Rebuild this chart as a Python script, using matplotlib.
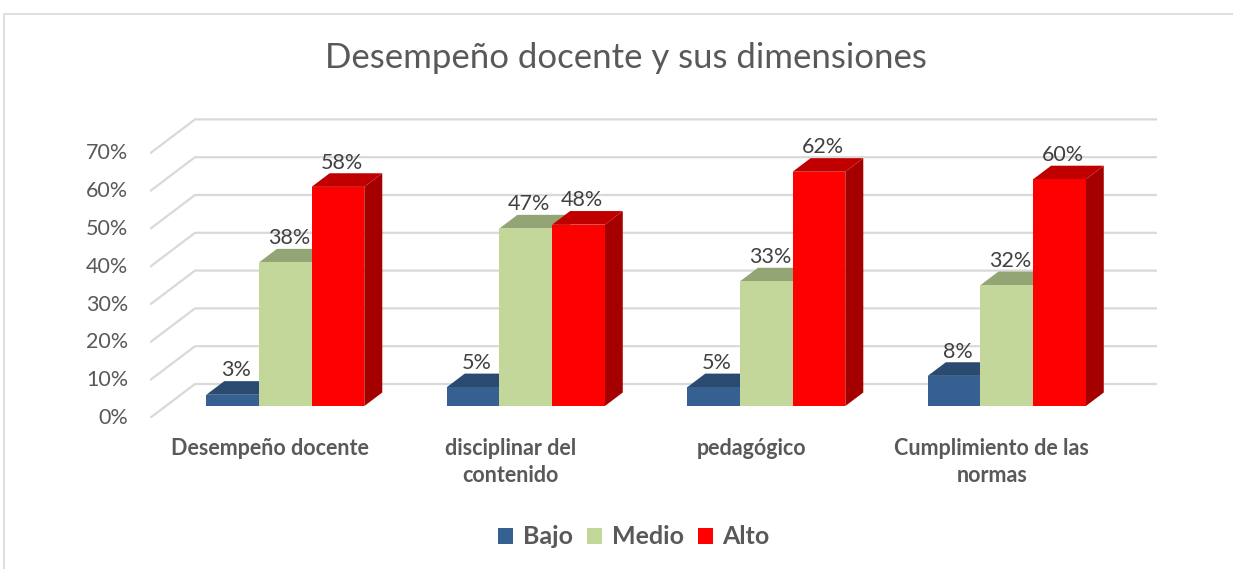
import matplotlib
matplotlib.use('Agg')
import matplotlib.pyplot as plt
from matplotlib.patches import Polygon, Rectangle, Patch

# data
categories = ['Desempeño docente', 'disciplinar del\ncontenido', 'pedagógico',
              'Cumplimiento de las\nnormas']
series = ['Bajo', 'Medio', 'Alto']
bajo = [3, 5, 5, 8]
medio = [38, 47, 33, 32]
alto = [58, 48, 62, 60]
yticks = [0, 10, 20, 30, 40, 50, 60, 70]

front_colors = ['#376092', '#c4d79b', '#ff0000']
top_colors = ['#2a4a70', '#94a575', '#c00000']
side_colors = ['#203a58', '#7d8c60', '#a50000']

plt.rcParams['font.family'] = ['Lato', 'DejaVu Sans']

W, H = 1233, 569
fig = plt.figure(figsize=(W / 100, H / 100), dpi=100)

# chart border
fig.patches.append(Rectangle((4 / W, -0.1), 1.2, 1 - 14 / H + 0.1, transform=fig.transFigure,
                             fill=False, edgecolor='#d9d9d9', linewidth=1.2))

# axes placed so that x = category index, y = percent (front plane, depth 0)
px_per_cat = 240.5
px_per_pct = 3.78
left_px, right_px, zero_px, top_px = 150, 1165, 418, 100
ax = fig.add_axes([left_px / W, (H - zero_px) / H, (right_px - left_px) / W, (zero_px - top_px) / H])
ax.set_xlim(-0.5, -0.5 + (right_px - left_px) / px_per_cat)
ax.set_ylim(0, (zero_px - top_px) / px_per_pct)
ax.axis('off')

dx = 45 / px_per_cat   # depth offset in x units
dy = 34 / px_per_pct   # depth offset in y units
n = len(categories)

# walls / gridlines
for t in yticks:
    ax.plot([-0.5, -0.5 + dx, n - 0.5 + dx], [t, t + dy, t + dy], color='#d9d9d9', lw=1.6,
            solid_capstyle='butt', zorder=1)
    ax.text(-0.5 - 22 / px_per_cat, t, f'{t}%', ha='right', va='center', fontsize=15.5,
            color='#595959')

# bars
width = 0.219
z0, z1 = 0.35, 0.75
values = [bajo, medio, alto]
for i in range(n):
    for j, vals in enumerate(values):
        v = vals[i]
        xl = i - 1.5 * width + j * width - 0.003
        xr = xl + width
        fx0, fy0 = z0 * dx, z0 * dy
        bx, by = z1 * dx, z1 * dy
        side = Polygon([(xr + fx0, fy0), (xr + bx, by), (xr + bx, v + by), (xr + fx0, v + fy0)],
                       closed=True, facecolor=side_colors[j], edgecolor='none', zorder=2 + j)
        top = Polygon([(xl + fx0, v + fy0), (xr + fx0, v + fy0), (xr + bx, v + by), (xl + bx, v + by)],
                      closed=True, facecolor=top_colors[j], edgecolor='none', zorder=2 + j)
        front = Polygon([(xl + fx0, fy0), (xr + fx0, fy0), (xr + fx0, v + fy0), (xl + fx0, v + fy0)],
                        closed=True, facecolor=front_colors[j], edgecolor='none', zorder=2 + j)
        for p in (side, top, front):
            ax.add_patch(p)
        ax.text((xl + xr) / 2 + fx0 + 0.015, v + by + 0.2, f'{v}%', ha='center', va='bottom',
                fontsize=15.5, color='#404040', zorder=10)

# category labels
for i, c in enumerate(categories):
    ax.text(i, -20 / px_per_pct, c, ha='center', va='top', fontsize=15.5, fontweight='bold',
            color='#595959', linespacing=1.35)

fig.text(626 / W, 1 - 58 / H, 'Desempeño docente y sus dimensiones', ha='center', va='center',
         fontsize=25, color='#595959')

handles = [Patch(facecolor=c, edgecolor='none') for c in front_colors]
leg = fig.legend(handles, series, loc='center', bbox_to_anchor=(634 / W, 1 - 537 / H), ncol=3,
                 frameon=False, handlelength=0.6, handleheight=0.6, handletextpad=0.4,
                 columnspacing=0.55, prop={'size': 18, 'weight': 'bold'})
for t in leg.get_texts():
    t.set_color('#595959')

fig.savefig('out.png', dpi=100)
